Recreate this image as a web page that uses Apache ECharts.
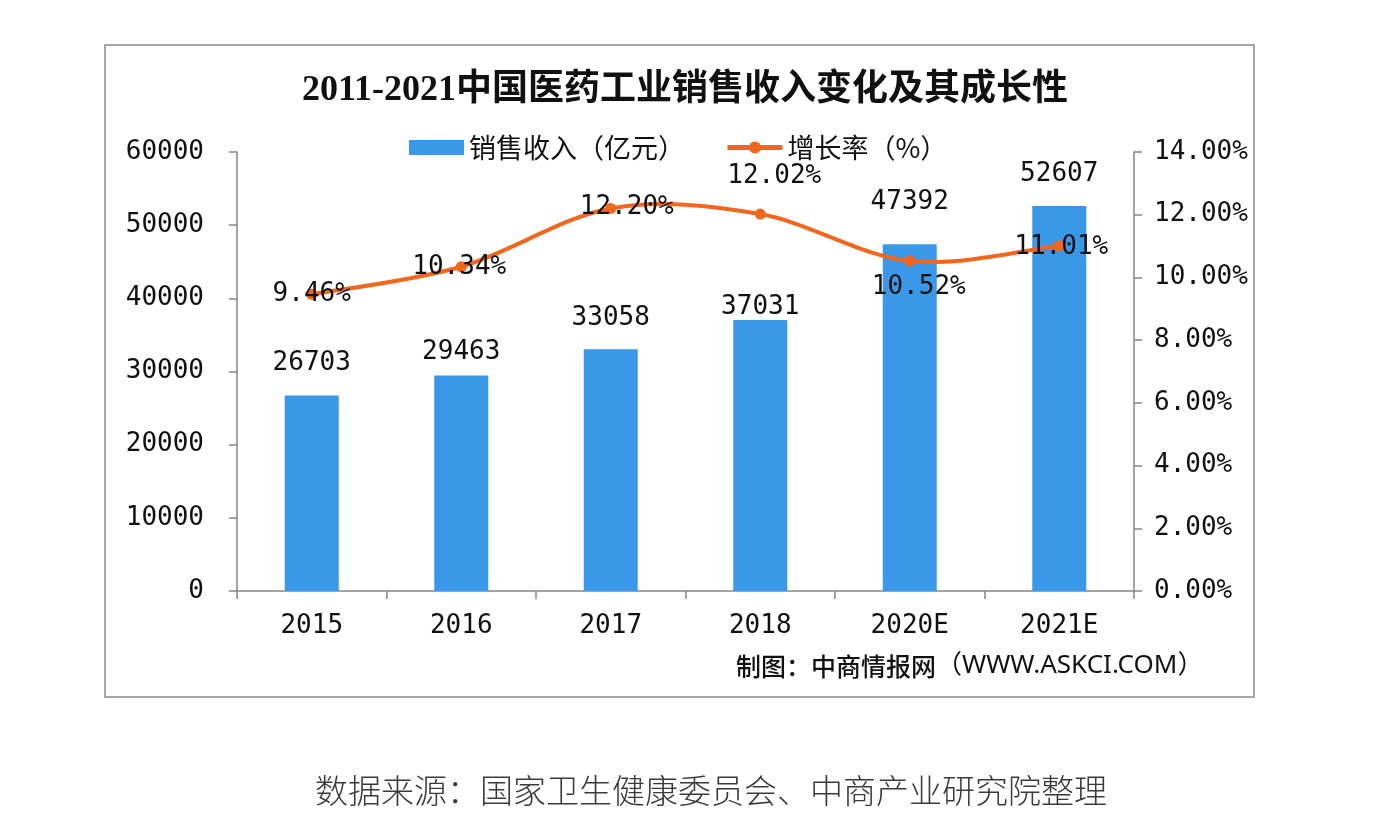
<!DOCTYPE html>
<html>
<head>
<meta charset="utf-8">
<script src="https://cdn.jsdelivr.net/npm/echarts@6/dist/echarts.min.js"></script>
<style>
html,body{margin:0;padding:0;background:#fff;}
#chart{width:1382px;height:838px;}
</style>
</head>
<body>
<div id="chart"></div>
<script>
const categories = ['2015', '2016', '2017', '2018', '2020E', '2021E'];
const revenue = [26703, 29463, 33058, 37031, 47392, 52607];
const growth = [9.46, 10.34, 12.20, 12.02, 10.52, 11.01];
const leftAxisRange = { min: 0, max: 60000, interval: 10000 };
const rightAxisRange = { min: 0, max: 14, interval: 2 };
const seriesNames = ['销售收入（亿元）', '增长率（%）'];
const titleText = '2011-2021中国医药工业销售收入变化及其成长性';
const creditText = ['制图：中商情报网', '（WWW.ASKCI.COM）'];
const sourceText = '数据来源：国家卫生健康委员会、中商产业研究院整理';

// label placement tweaks (styling only)
const barLabelDy = [-19, -10, -18, 0, -29, -19];
const lineLabelOffset = [[0, 0], [-2, 0], [16, -1], [14, -38], [9, 26], [2, 1]];

const NUM_FONT = "'DejaVu Sans Mono', monospace";
const CJK_FONT = "'Noto Sans CJK SC', sans-serif";
const BLUE = '#3b98e9';
const ORANGE = '#f4661b';
const AXIS = '#868686';

const chart = echarts.init(document.getElementById('chart'), null, { renderer: 'canvas' });

const barData = revenue.map((v, i) => ({
  value: v,
  label: { offset: [0, barLabelDy[i]] }
}));
const lineData = growth.map((v, i) => ({
  value: v,
  label: { offset: lineLabelOffset[i] }
}));
const curveData = growth.map((v, i) => [i, v]);

// Excel-like Catmull-Rom smoothing, drawn through the chart's own coordinate system
function renderCurveSegment(params, api) {
  const i = params.dataIndex;
  const n = growth.length;
  if (i >= n - 1) return null;
  const pt = k => api.coord([Math.max(0, Math.min(n - 1, k)), growth[Math.max(0, Math.min(n - 1, k))]]);
  const p0 = pt(i - 1), p1 = pt(i), p2 = pt(i + 1), p3 = pt(i + 2);
  const t = 1 / 6;
  return {
    type: 'bezierCurve',
    shape: {
      x1: p1[0], y1: p1[1], x2: p2[0], y2: p2[1],
      cpx1: p1[0] + (p2[0] - p0[0]) * t, cpy1: p1[1] + (p2[1] - p0[1]) * t,
      cpx2: p2[0] - (p3[0] - p1[0]) * t, cpy2: p2[1] - (p3[1] - p1[1]) * t
    },
    style: { stroke: ORANGE, lineWidth: 4, fill: null, lineCap: 'round' },
    silent: true
  };
}

const option = {
  backgroundColor: '#ffffff',
  animation: false,
  graphic: [
    {
      type: 'rect',
      shape: { x: 105, y: 45, width: 1149, height: 652 },
      style: { fill: 'none', stroke: '#8a8a8a', lineWidth: 1.5 },
      silent: true
    },
    {
      type: 'text',
      x: 685, y: 91,
      style: {
        text: titleText,
        font: "bold 36px 'Liberation Serif', 'Noto Sans CJK SC', serif",
        fill: '#111',
        textAlign: 'center',
        textVerticalAlign: 'middle'
      }
    },
    {
      type: 'text',
      x: 736, y: 666,
      style: {
        text: '{a|' + creditText[0] + '}{b|' + creditText[1] + '}',
        textVerticalAlign: 'middle',
        rich: {
          a: { fontFamily: CJK_FONT, fontSize: 25, fontWeight: 500, fill: '#111', color: '#111' },
          b: { fontFamily: "'Noto Sans', 'Noto Sans CJK SC', sans-serif", fontSize: 26, fill: '#111', color: '#111' }
        }
      }
    },
    {
      type: 'text',
      x: 711, y: 790,
      style: {
        text: sourceText,
        font: "300 33px 'Noto Sans CJK SC', sans-serif",
        fill: '#3a3a3a',
        textAlign: 'center',
        textVerticalAlign: 'middle'
      }
    }
  ],
  legend: {
    left: 409,
    top: 134,
    padding: 0,
    itemGap: 40,
    itemWidth: 55,
    itemHeight: 15,
    data: [
      { name: seriesNames[0], icon: 'rect' },
      {
        name: seriesNames[1],
        lineStyle: { color: ORANGE, width: 5, opacity: 1 },
        itemStyle: { color: ORANGE, opacity: 1 }
      }
    ],
    textStyle: { fontFamily: CJK_FONT, fontSize: 27, color: '#111' }
  },
  grid: { left: 237, right: 248, top: 152, bottom: 247 },
  xAxis: {
    type: 'category',
    data: categories,
    boundaryGap: true,
    axisLine: { show: true, lineStyle: { color: AXIS, width: 1.5 } },
    axisTick: { show: true, length: 8, alignWithLabel: false, lineStyle: { color: AXIS, width: 1.5 } },
    axisLabel: { margin: 22, fontFamily: NUM_FONT, fontSize: 26, color: '#111' }
  },
  yAxis: [
    {
      type: 'value',
      min: leftAxisRange.min, max: leftAxisRange.max, interval: leftAxisRange.interval,
      axisLine: { show: true, lineStyle: { color: AXIS, width: 1.5 } },
      axisTick: { show: true, length: 8, lineStyle: { color: AXIS, width: 1.5 } },
      splitLine: { show: false },
      axisLabel: {
        margin: 33, fontFamily: NUM_FONT, fontSize: 26, color: '#111',
        formatter: v => String(v)
      }
    },
    {
      type: 'value',
      position: 'right',
      min: rightAxisRange.min, max: rightAxisRange.max, interval: rightAxisRange.interval,
      axisLine: { show: true, lineStyle: { color: AXIS, width: 1.5 } },
      axisTick: { show: true, length: 8, lineStyle: { color: AXIS, width: 1.5 } },
      splitLine: { show: false },
      axisLabel: {
        margin: 20, fontFamily: NUM_FONT, fontSize: 26, color: '#111',
        formatter: v => v.toFixed(2) + '%'
      }
    }
  ],
  series: [
    {
      name: seriesNames[0],
      type: 'bar',
      yAxisIndex: 0,
      data: barData,
      barWidth: 54,
      itemStyle: { color: BLUE },
      label: {
        show: true, position: 'top', distance: 0,
        fontFamily: NUM_FONT, fontSize: 26, color: '#111'
      },
      z: 2
    },
    {
      name: 'curve',
      type: 'custom',
      coordinateSystem: 'cartesian2d',
      yAxisIndex: 1,
      data: curveData,
      encode: { x: 0, y: 1 },
      renderItem: renderCurveSegment,
      z: 3,
      silent: true
    },
    {
      name: seriesNames[1],
      type: 'line',
      yAxisIndex: 1,
      data: lineData,
      symbol: 'circle',
      symbolSize: 11,
      lineStyle: { color: ORANGE, width: 0, opacity: 0 },
      itemStyle: { color: ORANGE },
      label: {
        show: true, position: 'inside',
        fontFamily: NUM_FONT, fontSize: 26, color: '#111',
        formatter: p => p.value.toFixed(2) + '%'
      },
      z: 4
    }
  ]
};
chart.setOption(option);
</script>
</body>
</html>
